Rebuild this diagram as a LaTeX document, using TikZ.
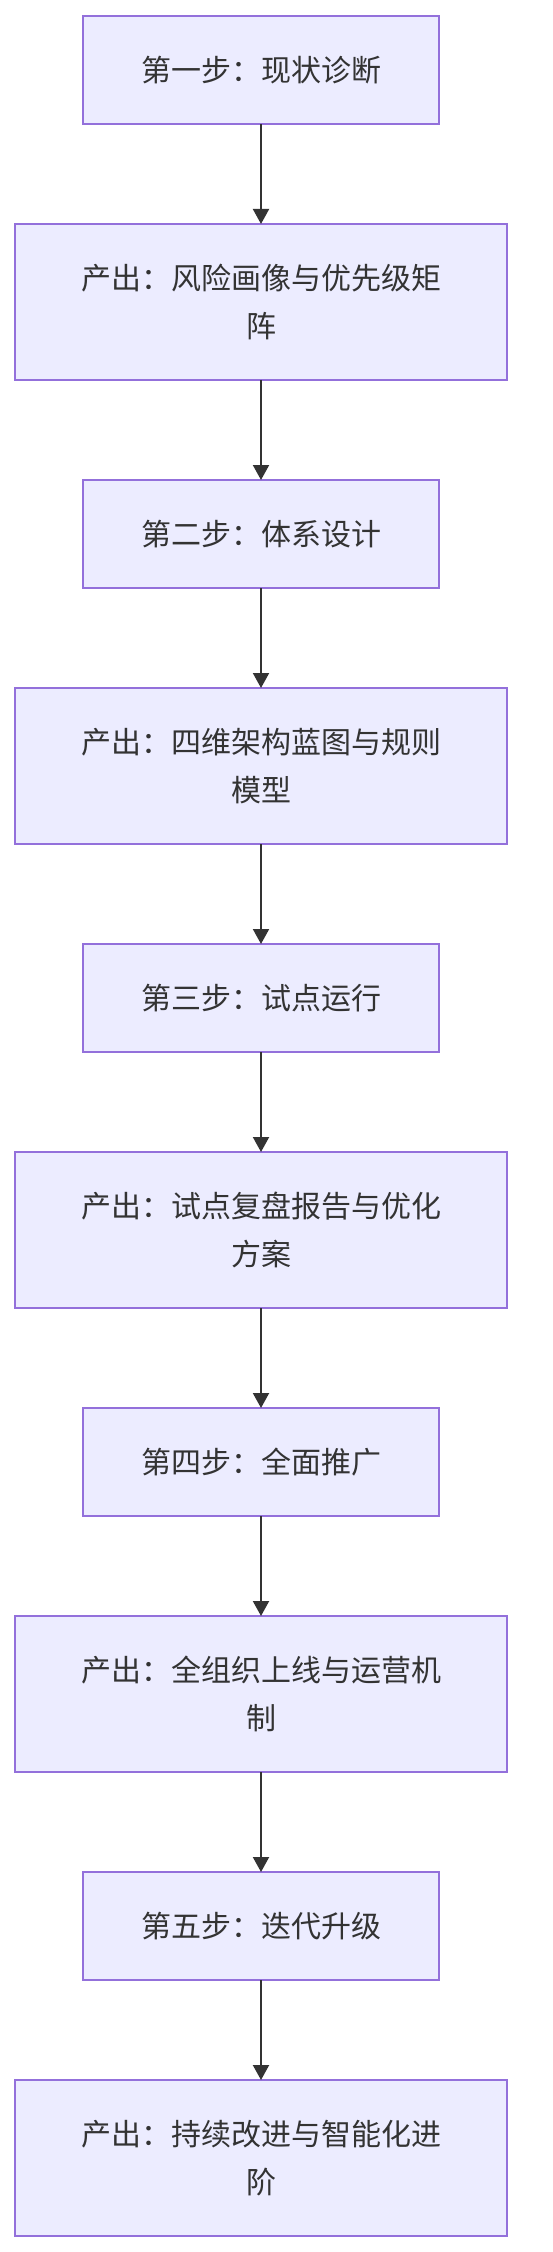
\documentclass[tikz,border=0pt]{standalone}
\usepackage{fontspec}
\usetikzlibrary{positioning,arrows.meta}
\newfontfamily\cjk{Noto Sans CJK SC}
\definecolor{boxfill}{HTML}{ECECFF}
\definecolor{boxline}{HTML}{9370DB}
\definecolor{ink}{HTML}{333333}

\begin{document}
\begin{tikzpicture}[x=0.5pt,y=0.5pt,
  stepbox/.style={draw=boxline,fill=boxfill,line width=0.75pt,text=ink,font=\cjk\fontsize{15pt}{24pt}\selectfont,
    minimum width=178pt,minimum height=54pt,inner sep=0pt,outer sep=0pt,align=center},
  outbox/.style={stepbox,minimum width=246pt,minimum height=78pt},
  flow/.style={draw=ink,line width=1pt,-{Triangle[width=8pt,length=7.5pt]}},
  node distance=50pt]
\useasboundingbox (0,0) rectangle (552,-2252);

 \node[stepbox] at (261,-70) (s1) {第一步：现状诊断};
 \node[outbox,below=of s1] (o1) {产出：风险画像与优先级矩\\阵};
 \node[stepbox,below=of o1] (s2) {第二步：体系设计};
 \node[outbox,below=of s2] (o2) {产出：四维架构蓝图与规则\\模型};
 \node[stepbox,below=of o2] (s3) {第三步：试点运行};
 \node[outbox,below=of s3] (o3) {产出：试点复盘报告与优化\\方案};
 \node[stepbox,below=of o3] (s4) {第四步：全面推广};
 \node[outbox,below=of s4] (o4) {产出：全组织上线与运营机\\制};
 \node[stepbox,below=of o4] (s5) {第五步：迭代升级};
 \node[outbox,below=of s5] (o5) {产出：持续改进与智能化进\\阶};

 \draw[flow] (s1) -- (o1);
 \draw[flow] (o1) -- (s2);
 \draw[flow] (s2) -- (o2);
 \draw[flow] (o2) -- (s3);
 \draw[flow] (s3) -- (o3);
 \draw[flow] (o3) -- (s4);
 \draw[flow] (s4) -- (o4);
 \draw[flow] (o4) -- (s5);
 \draw[flow] (s5) -- (o5);
\end{tikzpicture}
\end{document}
